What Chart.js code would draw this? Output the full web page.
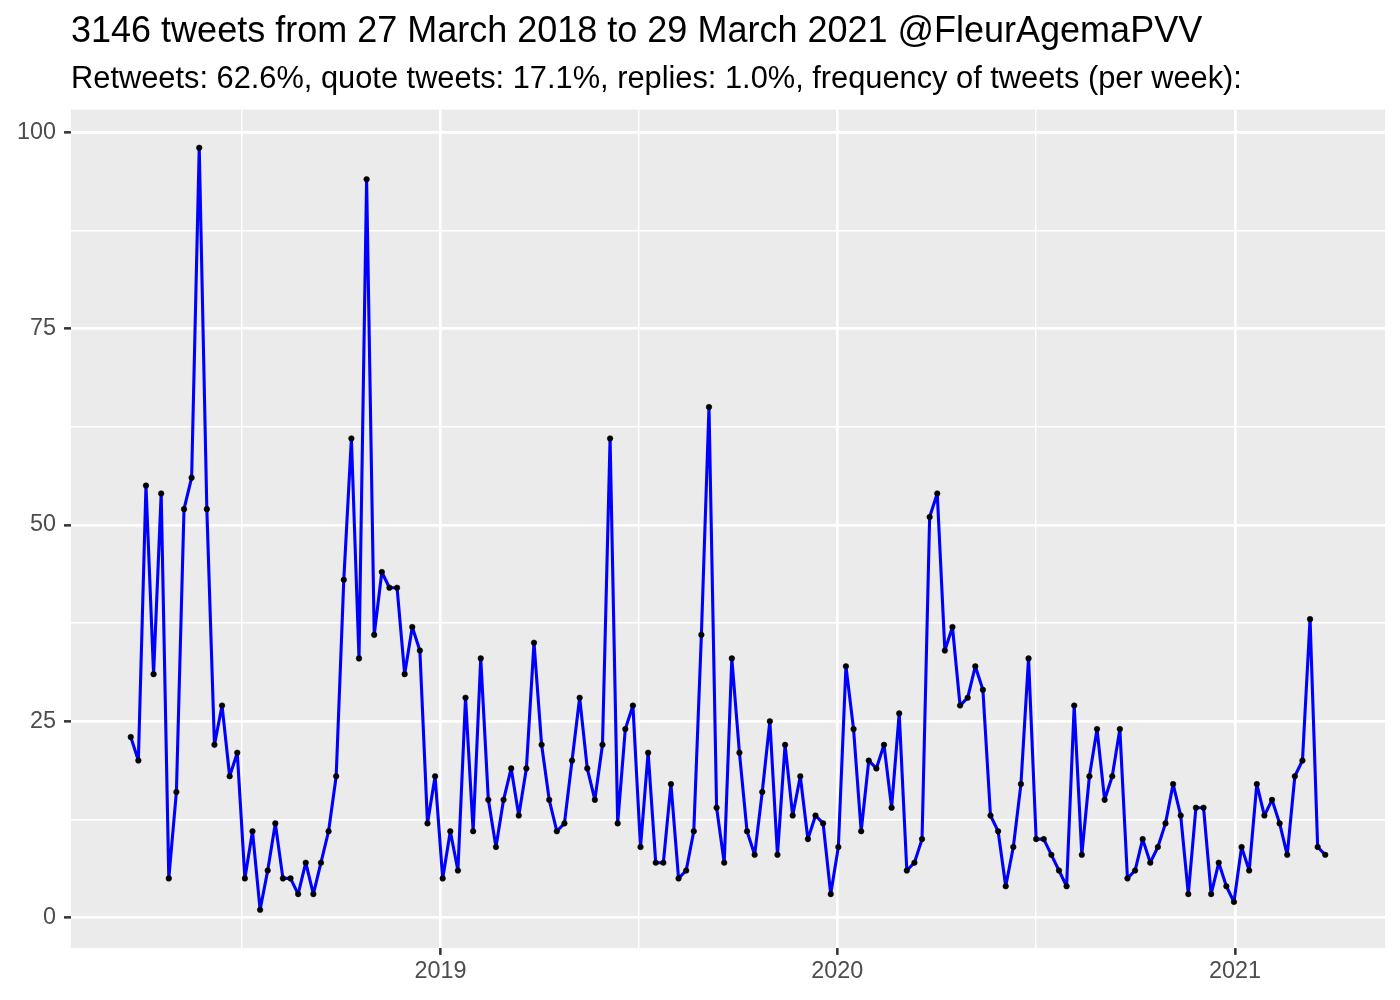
<!DOCTYPE html>
<html>
<head>
<meta charset="utf-8">
<script src="https://cdn.jsdelivr.net/npm/chart.js@4.4.1/dist/chart.umd.min.js"></script>
<style>
  html, body { margin: 0; padding: 0; background: #ffffff; }
  #wrap { width: 1400px; height: 1000px; position: relative; }
</style>
</head>
<body>
<div id="wrap"><canvas id="tweetsChart"></canvas></div>
<script>
// weekly tweet counts, first week starting 22 March 2018
var firstWeek = Date.UTC(2018, 2, 22);
var DAY = 86400000;

var tweetsPerWeek = [
    23, 20, 55, 31, 54, 5, 16, 52, 56, 98,
    52, 22, 27, 18, 21, 5, 11, 1, 6, 12,
    5, 5, 3, 7, 3, 7, 11, 18, 43, 61,
    33, 94, 36, 44, 42, 42, 31, 37, 34, 12,
    18, 5, 11, 6, 28, 11, 33, 15, 9, 15,
    19, 13, 19, 35, 22, 15, 11, 12, 20, 28,
    19, 15, 22, 61, 12, 24, 27, 9, 21, 7,
    7, 17, 5, 6, 11, 36, 65, 14, 7, 33,
    21, 11, 8, 16, 25, 8, 22, 13, 18, 10,
    13, 12, 3, 9, 32, 24, 11, 20, 19, 22,
    14, 26, 6, 7, 10, 51, 54, 34, 37, 27,
    28, 32, 29, 13, 11, 4, 9, 17, 33, 10,
    10, 8, 6, 4, 27, 8, 18, 24, 15, 18,
    24, 5, 6, 10, 7, 9, 12, 17, 13, 3,
    14, 14, 3, 7, 4, 2, 9, 6, 17, 13,
    15, 12, 8, 18, 20, 38, 9, 8
];

var yearTicks = [2019, 2020, 2021];
var yTicks = [0, 25, 50, 75, 100];

var titleText = '3146 tweets from 27 March 2018 to 29 March 2021 @FleurAgemaPVV';
var subtitleText = 'Retweets: 62.6%, quote tweets: 17.1%, replies: 1.0%, frequency of tweets (per week):';

document.addEventListener("DOMContentLoaded", function () {

    var points = tweetsPerWeek.map(function (v, i) {
        return { x: firstWeek + i * 7 * DAY, y: v };
    });

    // ggplot style 5% expansion of both ranges
    var xLo = points[0].x, xHi = points[points.length - 1].x;
    var xPad = (xHi - xLo) * 0.05;
    var yLo = Math.min.apply(null, tweetsPerWeek), yHi = Math.max.apply(null, tweetsPerWeek);
    var yPad = (yHi - yLo) * 0.05;

    // major breaks at year starts, minor breaks halfway between
    var majorX = yearTicks.map(function (y) { return Date.UTC(y, 0, 1); });
    var xBreaks = [];
    yearTicks.forEach(function (y, i) {
        var prev = (Date.UTC(y - 1, 0, 1) + majorX[i]) / 2;
        xBreaks.push({ value: prev, major: false });
        xBreaks.push({ value: majorX[i], major: true });
    });

    var yBreaks = [];
    yTicks.forEach(function (t, i) {
        yBreaks.push({ value: t, major: true });
        if (i < yTicks.length - 1) yBreaks.push({ value: (t + yTicks[i + 1]) / 2, major: false });
    });

    var panelBg = {
        id: 'panelBg',
        beforeDraw: function (chart) {
            var a = chart.chartArea, c = chart.ctx;
            c.save();
            c.fillStyle = '#EBEBEB';
            c.fillRect(a.left, a.top, a.right - a.left, a.bottom - a.top);
            c.restore();
        }
    };

    var ctx = document.getElementById('tweetsChart').getContext('2d');
    var tweetsChart = new Chart(ctx, {
        type: 'line',
        data: {
            datasets: [{
                label: 'tweets per week',
                data: points,
                borderColor: '#0000FF',
                borderWidth: 3.1,
                borderJoinStyle: 'round',
                borderCapStyle: 'round',
                tension: 0,
                pointRadius: 2.8,
                pointBackgroundColor: '#000000',
                pointBorderColor: '#000000',
                pointBorderWidth: 0.5,
                pointHoverRadius: 2.8
            }]
        },
        options: {
            responsive: true,
            maintainAspectRatio: false,
            animation: false,
            devicePixelRatio: 1,
            layout: { padding: { left: 9, right: 15, top: 0, bottom: 11 } },
            plugins: {
                legend: { display: false },
                tooltip: { enabled: false },
                title: {
                    display: true,
                    text: titleText,
                    align: 'start',
                    fullSize: false,
                    color: '#000000',
                    font: { family: 'Liberation Sans', size: 36, weight: 'normal', lineHeight: 1.2 },
                    padding: { top: 10, bottom: 0 }
                },
                subtitle: {
                    display: true,
                    text: subtitleText,
                    align: 'start',
                    fullSize: false,
                    color: '#000000',
                    font: { family: 'Liberation Sans', size: 30.8, weight: 'normal', lineHeight: 1.2 },
                    padding: { top: 8, bottom: 11.5 }
                }
            },
            scales: {
                x: {
                    type: 'linear',
                    min: xLo - xPad,
                    max: xHi + xPad,
                    afterBuildTicks: function (scale) {
                        scale.ticks = xBreaks.map(function (b) { return { value: b.value, major: b.major }; });
                    },
                    ticks: {
                        autoSkip: false,
                        maxRotation: 0,
                        padding: 3,
                        color: '#4D4D4D',
                        font: { family: 'Liberation Sans', size: 23.4 },
                        callback: function (value) {
                            var i = majorX.indexOf(value);
                            return i >= 0 ? String(yearTicks[i]) : '';
                        }
                    },
                    grid: {
                        color: '#FFFFFF',
                        lineWidth: function (c) { return c.tick && majorX.indexOf(c.tick.value) >= 0 ? 2.7 : 1.4; },
                        tickLength: 7,
                        tickWidth: 2.5,
                        tickColor: function (c) { return c.tick && majorX.indexOf(c.tick.value) >= 0 ? '#333333' : 'rgba(0,0,0,0)'; }
                    },
                    border: { display: false }
                },
                y: {
                    type: 'linear',
                    min: yLo - yPad,
                    max: yHi + yPad,
                    afterBuildTicks: function (scale) {
                        scale.ticks = yBreaks.map(function (b) { return { value: b.value, major: b.major }; });
                    },
                    ticks: {
                        autoSkip: false,
                        padding: 8,
                        color: '#4D4D4D',
                        font: { family: 'Liberation Sans', size: 23.4 },
                        callback: function (value) {
                            return yTicks.indexOf(value) >= 0 ? String(value) : '';
                        }
                    },
                    grid: {
                        color: '#FFFFFF',
                        lineWidth: function (c) { return c.tick && yTicks.indexOf(c.tick.value) >= 0 ? 2.7 : 1.4; },
                        tickLength: 7,
                        tickWidth: 2.5,
                        tickColor: function (c) { return c.tick && yTicks.indexOf(c.tick.value) >= 0 ? '#333333' : 'rgba(0,0,0,0)'; }
                    },
                    border: { display: false }
                }
            }
        },
        plugins: [panelBg]
    });
});
</script>
</body>
</html>
